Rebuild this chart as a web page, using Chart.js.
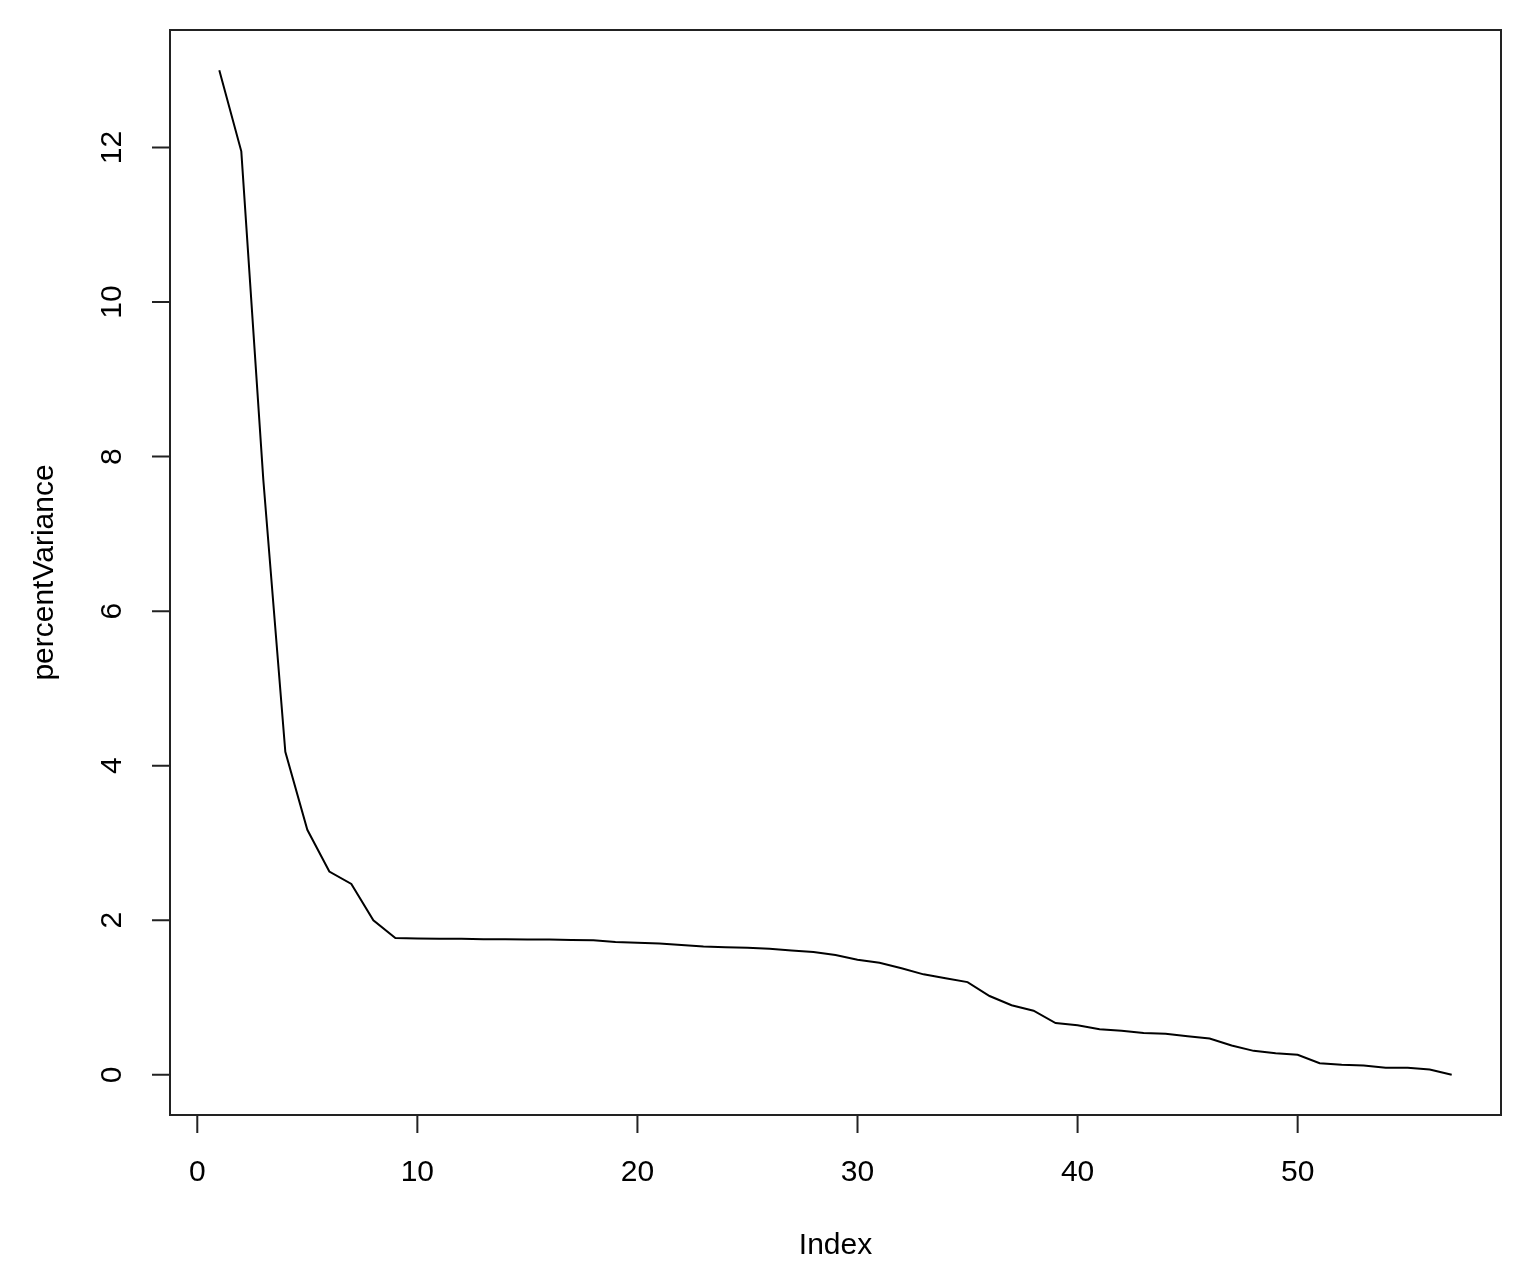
<!DOCTYPE html>
<html>
<head>
<meta charset="utf-8">
<script src="https://cdn.jsdelivr.net/npm/chart.js@4/dist/chart.umd.min.js"></script>
<style>
  html, body { margin: 0; padding: 0; background: #ffffff; }
  #wrap { width: 1528px; height: 1284px; position: relative; }
</style>
</head>
<body>
<div id="wrap"><canvas id="screePlot"></canvas></div>
<script>
// Scree data (index 1..57)
const indexValues = [
    1, 2, 3, 4, 5, 6, 7, 8, 9, 10,
    11, 12, 13, 14, 15, 16, 17, 18, 19, 20,
    21, 22, 23, 24, 25, 26, 27, 28, 29, 30,
    31, 32, 33, 34, 35, 36, 37, 38, 39, 40,
    41, 42, 43, 44, 45, 46, 47, 48, 49, 50,
    51, 52, 53, 54, 55, 56, 57
];
const percentVariance = [
    13.0, 11.95, 7.7, 4.18, 3.17, 2.63, 2.47, 2.00, 1.77, 1.765,
    1.76, 1.76, 1.755, 1.755, 1.75, 1.75, 1.745, 1.74, 1.72, 1.71,
    1.70, 1.68, 1.66, 1.65, 1.645, 1.63, 1.61, 1.59, 1.55, 1.49,
    1.45, 1.38, 1.30, 1.25, 1.20, 1.02, 0.90, 0.83, 0.67, 0.64,
    0.59, 0.57, 0.54, 0.53, 0.50, 0.47, 0.38, 0.31, 0.28, 0.26,
    0.15, 0.13, 0.12, 0.09, 0.09, 0.07, 0.0
];
const xTicks = [0, 10, 20, 30, 40, 50];
const yTicks = [0, 2, 4, 6, 8, 10, 12];
const xTitle = 'Index';
const yTitle = 'percentVariance';

const FONT = "'Liberation Sans', Arial, Helvetica, sans-serif";

// R-style box, ticks and labels drawn on top of the library scales
const baseGraphics = {
    id: 'baseGraphics',
    afterDraw(chart) {
        const ctx = chart.ctx;
        const area = chart.chartArea;
        const xs = chart.scales.x;
        const ys = chart.scales.y;
        const tickLen = 18;

        ctx.save();
        ctx.strokeStyle = '#222';
        ctx.lineWidth = 2;
        ctx.strokeRect(area.left, area.top, area.right - area.left, area.bottom - area.top);

        ctx.fillStyle = '#000';
        ctx.font = '30px ' + FONT;

        // x axis
        ctx.beginPath();
        ctx.moveTo(xs.getPixelForValue(xTicks[0]), area.bottom);
        ctx.lineTo(xs.getPixelForValue(xTicks[xTicks.length - 1]), area.bottom);
        xTicks.forEach(function(t) {
            const px = xs.getPixelForValue(t);
            ctx.moveTo(px, area.bottom);
            ctx.lineTo(px, area.bottom + tickLen);
        });
        ctx.stroke();
        ctx.textAlign = 'center';
        ctx.textBaseline = 'middle';
        xTicks.forEach(function(t) {
            ctx.fillText(String(t), xs.getPixelForValue(t), 1173);
        });

        // y axis
        ctx.beginPath();
        ctx.moveTo(area.left, ys.getPixelForValue(yTicks[0]));
        ctx.lineTo(area.left, ys.getPixelForValue(yTicks[yTicks.length - 1]));
        yTicks.forEach(function(t) {
            const py = ys.getPixelForValue(t);
            ctx.moveTo(area.left, py);
            ctx.lineTo(area.left - tickLen, py);
        });
        ctx.stroke();
        yTicks.forEach(function(t) {
            ctx.save();
            ctx.translate(113, ys.getPixelForValue(t));
            ctx.rotate(-Math.PI / 2);
            ctx.fillText(String(t), 0, 0);
            ctx.restore();
        });

        // axis titles
        ctx.fillText(xTitle, (area.left + area.right) / 2, 1246);
        ctx.save();
        ctx.translate(45, (area.top + area.bottom) / 2);
        ctx.rotate(-Math.PI / 2);
        ctx.fillText(yTitle, 0, 0);
        ctx.restore();

        ctx.restore();
    }
};

document.addEventListener('DOMContentLoaded', function() {
    const canvas = document.getElementById('screePlot');

    const points = indexValues.map(function(x, i) {
        return { x: x, y: percentVariance[i] };
    });

    new Chart(canvas, {
        type: 'line',
        data: {
            datasets: [{
                label: yTitle,
                data: points,
                borderColor: '#000000',
                borderWidth: 2,
                pointRadius: 0,
                fill: false,
                tension: 0
            }]
        },
        options: {
            responsive: true,
            maintainAspectRatio: false,
            animation: false,
            layout: {
                padding: { left: 170, top: 30, right: 27, bottom: 169 }
            },
            scales: {
                x: {
                    type: 'linear',
                    min: -1.24,
                    max: 59.24,
                    display: false
                },
                y: {
                    type: 'linear',
                    min: -0.52,
                    max: 13.52,
                    display: false
                }
            },
            plugins: {
                legend: { display: false },
                tooltip: { enabled: false }
            }
        },
        plugins: [baseGraphics]
    });
});
</script>
</body>
</html>
